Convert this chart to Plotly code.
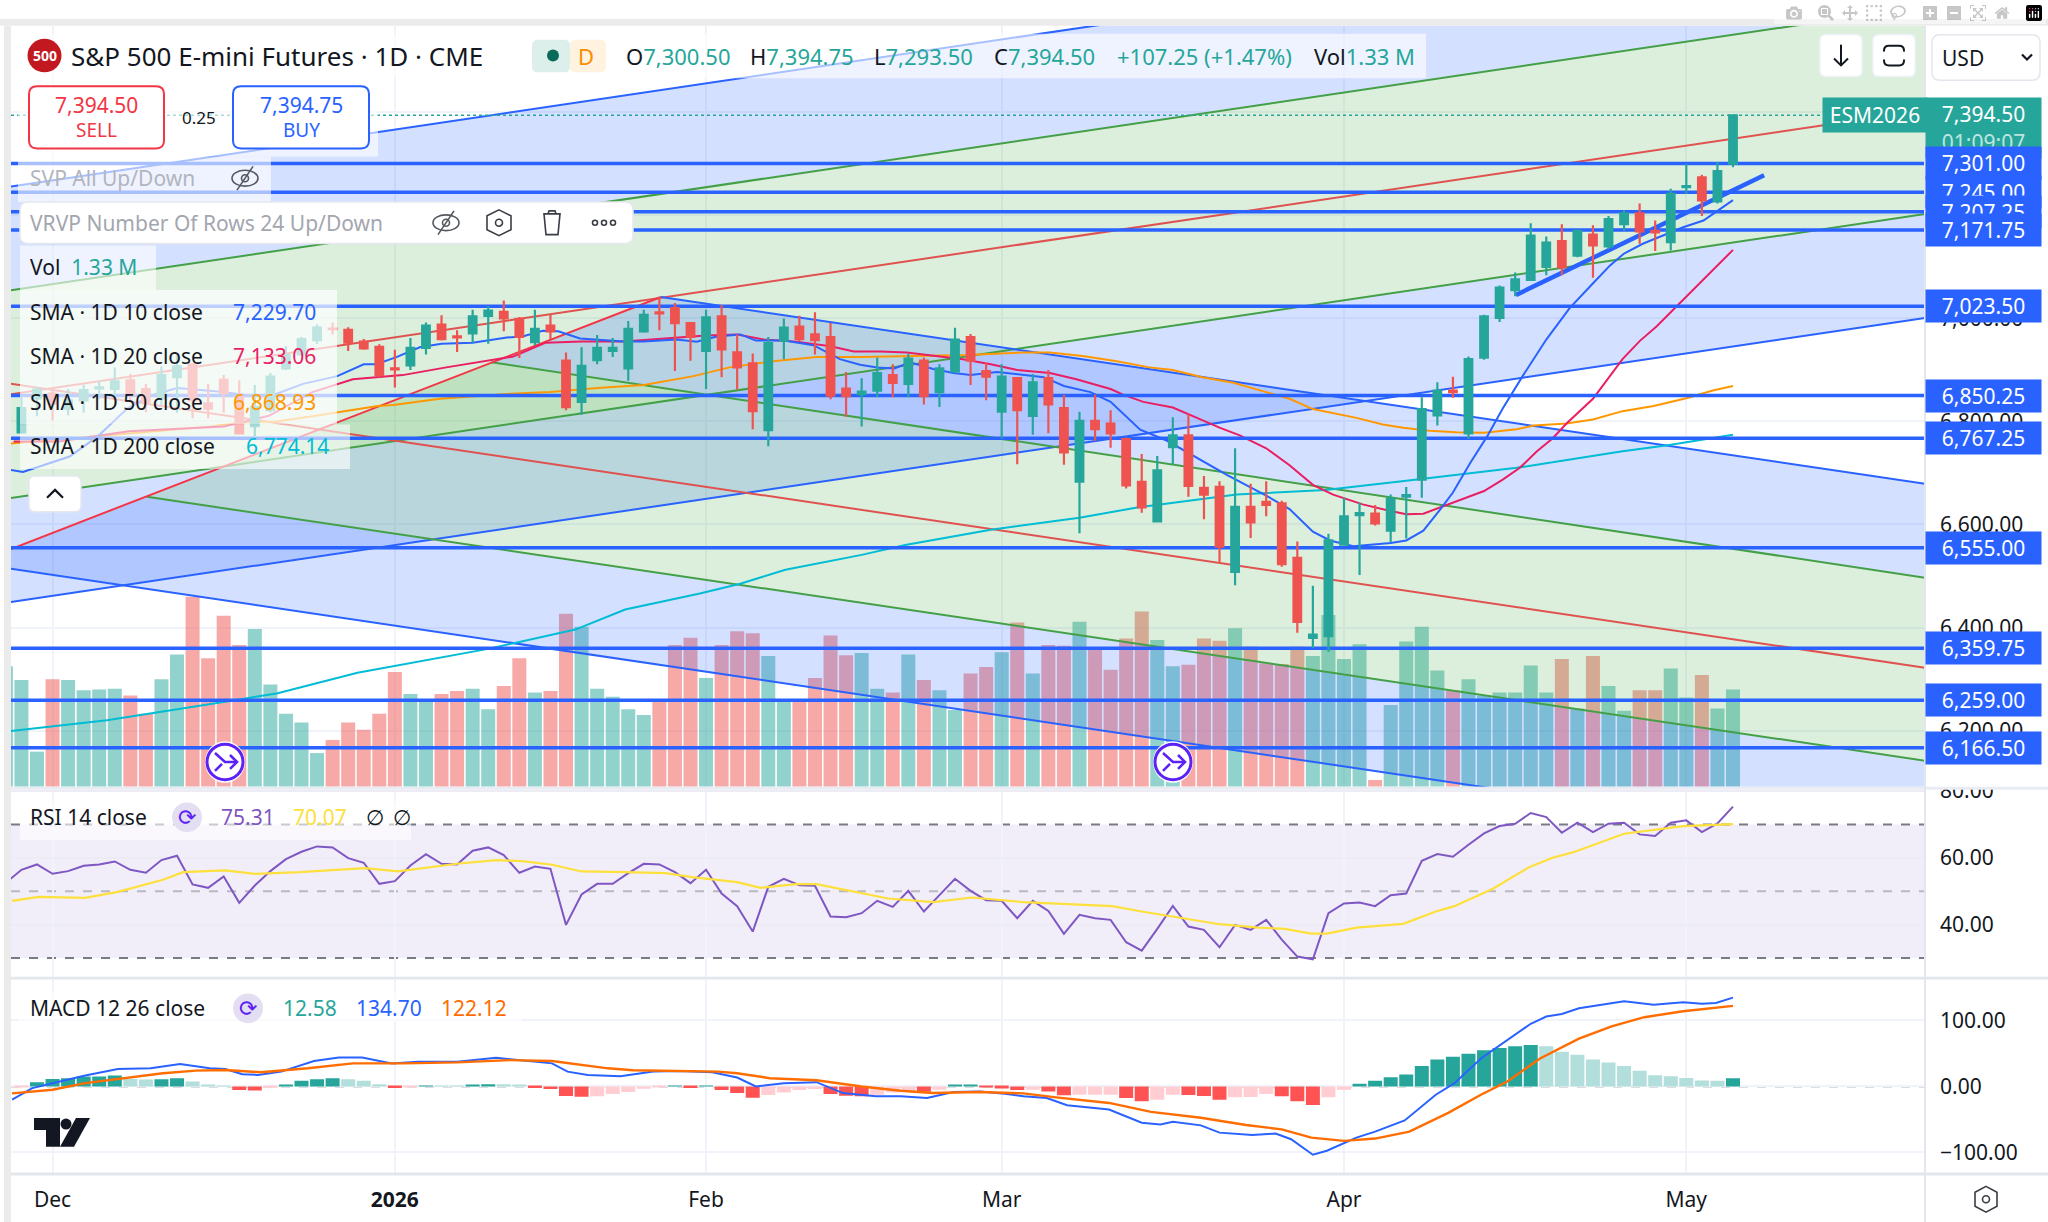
import plotly.graph_objects as go

W, H = 2048, 1222
FONT = "Noto Sans"

# ---- price data, bar index 0 is the first December session
BARS = list(range(-3, 109))
OPEN = [6726, 6779, 6845, 6854, 6825, 6841, 6864, 6863, 6880, 6863, 6845, 6886, 6911, 6835, 6881, 6847, 6791, 6822, 6903, 6930, 6958, 6980.5, 6978, 6955, 6945, 6903, 6909, 6943,
        6988, 6965, 6971, 7005, 7013, 6999, 6954, 6986, 6918, 6838, 6919, 6937, 6903, 6975, 7012, 7020, 6991, 6937, 7004, 6934, 6913, 6783, 6957, 6984, 6969, 6964, 6864,
        6853, 6860, 6890, 6873, 6918, 6857, 6897, 6964, 6898, 6819, 6884, 6811, 6884, 6826, 6683, 6801, 6796, 6766, 6683, 6606, 6750, 6773, 6671, 6673, 6508, 6634, 6644, 6641, 6535,
        6380, 6383, 6561, 6618, 6621, 6588, 6654, 6687, 6812, 6860, 6777, 6924, 7001, 7055, 7075, 7100, 7150, 7122, 7163, 7140, 7183, 7204, 7170, 7148, 7255, 7274, 7227, 7300.5]
HIGH = [6785, 6847, 6866, 6863, 6863, 6871, 6879, 6905, 6892, 6873, 6907, 6929, 6913, 6873, 6890, 6880, 6871, 6894, 6946, 6964, 6988, 6992, 6983, 6960, 6950, 6939, 6962, 6992,
        7006, 6977, 7017, 7024, 7035, 7003, 7017, 7007, 6934, 6944, 6968, 6962, 6995, 7017, 7042, 7030, 6992, 7017, 7026, 6969, 6932, 6964, 7000, 7005, 7012, 6991, 6896,
        6884, 6924, 6911, 6931, 6924, 6911, 6982, 6970, 6915, 6911, 6886, 6892, 6900, 6852, 6819, 6852, 6822, 6769, 6737, 6733, 6808, 6814, 6694, 6684, 6748, 6679, 6684, 6646, 6567,
        6481, 6582, 6652, 6642, 6638, 6658, 6673, 6847, 6876, 6887, 6926, 7007, 7064, 7089, 7185, 7159, 7183, 7172, 7181, 7199, 7210, 7223, 7190, 7252, 7300, 7279, 7304, 7394.75]
LOW = [6720, 6776, 6810, 6802, 6812, 6817, 6843, 6847, 6838, 6818, 6832, 6817, 6806, 6806, 6817, 6775, 6772, 6818, 6900, 6928, 6951, 6969, 6937, 6939, 6886, 6866, 6900, 6930,
       6957, 6935, 6953, 6951, 6975, 6923, 6948, 6960, 6822, 6813, 6911, 6925, 6879, 6972, 6977, 6898, 6918, 6863, 6886, 6862, 6785, 6752, 6921, 6956, 6930, 6843, 6809,
       6790, 6847, 6847, 6847, 6833, 6828, 6894, 6871, 6841, 6767, 6717, 6774, 6777, 6716, 6583, 6762, 6749, 6670, 6623, 6605, 6717, 6654, 6610, 6525, 6482, 6574, 6616, 6518, 6390,
       6360, 6353, 6559, 6502, 6598, 6566, 6573, 6652, 6792, 6846, 6766, 6920, 6993, 7043, 7074, 7084, 7084, 7119, 7079, 7135, 7170, 7145, 7131, 7132, 7242, 7199, 7223, 7293.5]
CLOSE = [6780, 6826, 6862, 6834, 6841, 6861, 6866, 6878, 6853, 6838, 6890, 6907, 6841, 6825, 6856, 6777, 6828, 6887, 6929, 6960, 6982, 6979, 6953, 6942, 6890, 6901, 6943, 6986,
         6960, 6963, 7004, 7015, 7000, 6964, 6980, 6975, 6828, 6908, 6943, 6943, 6980, 7007, 7010, 6991, 6964, 7002, 6940, 6905, 6820, 6952, 6982, 6960, 6958, 6850, 6849,
         6858, 6894, 6875, 6922, 6849, 6903, 6959, 6918, 6887, 6887, 6822, 6876, 6833, 6740, 6801, 6785, 6777, 6676, 6633, 6705, 6773, 6675, 6658, 6557, 6634, 6604, 6638, 6523, 6411,
         6386, 6569, 6616, 6622, 6602, 6650, 6657, 6824, 6860, 6857, 6921, 7004, 7060, 7076, 7161, 7147, 7099, 7170, 7142, 7193, 7204, 7169, 7167, 7242, 7257, 7229, 7286, 7394.5]
VOLUME = [1.65, 1.46, 0.48, 1.47, 1.46, 1.32, 1.33, 1.34, 1.25, 1.00, 1.47, 1.81, 2.60, 1.76, 2.34, 1.94, 2.16, 1.40, 1.00, 0.88, 0.46, 0.64, 0.88, 0.78, 1.00, 1.57, 1.27, 1.19,
          1.27, 1.31, 1.34, 1.06, 1.38, 1.76, 1.29, 1.31, 2.37, 2.19, 1.34, 1.23, 1.06, 0.98, 1.19, 1.94, 2.04, 1.49, 1.94, 2.13, 2.10, 1.79, 1.20, 1.19, 1.49, 2.07, 1.80,
          1.83, 1.34, 1.29, 1.81, 1.46, 1.32, 1.05, 1.55, 1.64, 1.84, 2.25, 1.55, 1.94, 1.93, 2.26, 1.89, 1.60, 2.03, 2.40, 2.01, 1.65, 1.67, 2.03, 2.00, 2.17, 1.92, 1.69, 1.68, 1.92,
          1.79, 2.35, 1.75, 1.95, 0.09, 1.12, 1.99, 2.19, 1.59, 1.32, 1.47, 1.25, 1.29, 1.29, 1.66, 1.29, 1.75, 1.07, 1.79, 1.38, 1.04, 1.32, 1.32, 1.62, 1.22, 1.53, 1.07, 1.33]

# moving averages, read at the bar positions where the curve was clearest
SMA10_X = [-2.67, -1.9, 1.1, 2.9, 4.8, 6.3, 8, 10, 11, 12.7, 14.4, 16.1, 18.3, 20, 20.8, 22.1, 23.6, 25, 27, 29.2, 30.2, 31.5, 32.5, 33.9, 36.7, 38, 40.1, 41.4, 42.7, 44.2, 45.2, 47, 48.9, 50.6, 51.9, 53, 54.1, 55.1, 56.6, 57.9, 59, 60.7, 62, 63.7, 65, 66.7, 68, 69.9, 71.6, 73.3, 75.5, 78, 79.5, 81, 82.1, 83.6, 84.9, 86, 87, 88.1, 89.2, 90, 91.1, 92.2, 93.2, 94.5, 96, 97.5, 98.9, 100.1, 101, 102.2, 103.5, 104.8, 106.1, 107, 108]
SMA10_Y = [6706, 6702, 6732, 6771, 6825, 6850, 6865, 6859, 6857, 6850, 6854, 6873, 6888, 6911, 6911, 6925, 6944, 6951, 6953, 6963, 6965, 6976, 6975, 6961, 6955, 6955, 6959, 6955, 6965, 6969, 6957, 6957, 6948, 6921, 6910, 6905, 6903, 6915, 6902, 6894, 6890, 6896, 6892, 6886, 6869, 6857, 6838, 6784, 6763, 6734, 6696, 6656, 6630, 6586, 6569, 6558, 6562, 6564, 6569, 6588, 6630, 6662, 6719, 6771, 6825, 6889, 6959, 7020, 7065, 7103, 7126, 7145, 7161, 7177, 7190, 7209, 7229.7]
SMA20_X = [-2.5, 0.4, 4.9, 11, 13.9, 16.7, 19.3, 22.5, 25.3, 29.6, 31.7, 34, 36.7, 39.7, 42, 44, 45.7, 47.8, 50, 51.5, 53.2, 54.9, 56, 57.7, 58.5, 60.3, 62, 64.1, 65.8, 68, 68.8, 70.1, 72, 73.7, 75, 76.3, 78, 79.5, 81, 82.3, 84.2, 86, 87, 88.1, 89.6, 92, 93.2, 94.3, 95.4, 96.4, 97.3, 99, 100.9, 102, 103.1, 104.8, 106.1, 107.1, 108]
SMA20_Y = [6761, 6761, 6781, 6790, 6811, 6857, 6882, 6890, 6905, 6926, 6953, 6955, 6955, 6961, 6967, 6969, 6959, 6955, 6946, 6936, 6936, 6934, 6930, 6925, 6921, 6911, 6900, 6894, 6882, 6863, 6852, 6838, 6827, 6805, 6788, 6773, 6748, 6715, 6677, 6658, 6639, 6626, 6620, 6621, 6638, 6665, 6687, 6710, 6742, 6767, 6796, 6844, 6921, 6956, 6985, 7036, 7075, 7107, 7133.06]
SMA50_X = [-2.7, 3.7, 6.9, 10.1, 12.2, 14.4, 16.5, 18.7, 20.9, 21.9, 24.9, 29.4, 32, 35, 38, 41.2, 43.5, 46.3, 49.1, 51.9, 55.6, 58.8, 62.4, 64.1, 66.2, 68.4, 70.5, 72, 73.9, 75.9, 78, 79.5, 81, 82.1, 83.8, 85.5, 86.8, 88.5, 90.2, 92, 94.1, 95.2, 97.3, 99, 100.9, 102.9, 105, 106.7, 108]
SMA50_Y = [6757, 6773, 6782, 6790, 6798, 6800, 6809, 6819, 6830, 6832, 6844, 6854, 6857, 6865, 6871, 6888, 6905, 6917, 6925, 6925, 6927, 6929, 6934, 6934, 6927, 6917, 6905, 6900, 6886, 6875, 6857, 6844, 6824, 6817, 6807, 6794, 6788, 6782, 6779, 6778, 6785, 6792, 6796, 6804, 6820, 6830, 6845, 6860, 6868.93]
SMA200_X = [-2.7, 3.5, 11.5, 14.4, 19.6, 27.9, 33.6, 36.8, 41.6, 44.2, 47.1, 52, 54.8, 60.3, 66, 69.7, 76.1, 81.8, 87, 94.1, 100.9, 103.8, 108]
SMA200_Y = [6199, 6220, 6258, 6272, 6312, 6358, 6396, 6435, 6466, 6485, 6512, 6541, 6560, 6590, 6613, 6633, 6658, 6667, 6685, 6710, 6742, 6754, 6774.14]

# horizontal levels and drawings
LEVELS = [7301.0, 7245.0, 7207.25, 7171.75, 7023.5, 6850.25, 6767.25, 6555.0, 6359.75, 6259.0, 6166.5]
LAST_PRICE = 7394.5
EDGE_X = [-2.67, 120.34]
UP_OUTER_TOP = [7256.1, 7807.5]
UP_INNER_TOP = [7054.5, 7605.9]
UP_MID = [6852.8, 7404.2]
UP_INNER_BOT = [6651.2, 7202.6]
UP_OUTER_BOT = [6449.6, 7000.9]
DN_TOP_X = [39.1, 120.34]
DN_TOP = [7041.7, 6679.2]
DN_INNER_TOP_X = [28.2, 120.34]
DN_INNER_TOP = [6915.0, 6496.8]
DN_MID = [6873.4, 6322.0]
DN_INNER_BOT_X = [6.07, 120.34]
DN_INNER_BOT = [6653.7, 6141.5]
DN_BOT = [6514.3, 5963.0]
HANDLE_X = [-2.67, 39.1]
HANDLE_Y = [6552.5, 7041.7]
TREND_X = [94.05, 110.0]
TREND_Y = [7045.5, 7278.0]

# RSI pane
RSI = [52.5, 56.4, 58.0, 55.2, 56.0, 57.6, 58.0, 58.9, 56.4, 55.5, 59.3, 60.6, 52.0, 51.0, 54.4, 46.5, 51.7, 56.0, 59.6, 61.8, 63.4, 63.1, 59.9, 58.5, 52.2, 53.0, 57.7, 61.1,
       58.2, 58.0, 62.1, 63.1, 60.8, 55.5, 57.4, 56.7, 39.9, 49.0, 52.2, 52.2, 55.4, 58.2, 58.0, 55.7, 52.4, 56.4, 49.3, 45.5, 37.9, 51.3, 53.7, 51.8, 51.6, 42.4, 42.2,
       43.4, 47.1, 45.3, 50.1, 43.9, 48.8, 53.7, 50.1, 47.3, 47.1, 41.9, 47.1, 44.1, 37.2, 42.9, 41.9, 41.4, 34.7, 32.2, 38.7, 45.6, 39.4, 38.4, 33.2, 39.9, 38.4, 41.4, 35.5, 30.4,
       29.6, 43.4, 46.3, 46.6, 45.5, 48.8, 49.3, 59.1, 61.1, 60.3, 63.9, 67.3, 69.5, 70.2, 73.4, 72.2, 67.5, 70.5, 67.7, 70.2, 70.5, 67.0, 66.5, 70.5, 71.2, 67.7, 70.3, 75.31]
RSI_MA_X = [-2.6, -0.9, 2.1, 4.2, 7.1, 8.4, 11.1, 13, 15.9, 20.1, 22.2, 24.3, 26, 28.5, 30.2, 32.1, 34, 36.9, 39.4, 41.1, 44, 45.5, 47.8, 49.1, 50.8, 53.7, 56.6, 59.1, 62.4, 65.8, 68.1, 70, 72.9, 75, 77.5, 79.2, 80.9, 81.9, 83.8, 86.8, 88.9, 90.1, 92.6, 94.9, 96.4, 97.7, 101, 103.1, 104.8, 108]
RSI_MA_Y = [47.1, 48.3, 48.0, 49.8, 53.4, 55.7, 56.2, 55.2, 55.7, 56.9, 55.9, 57.2, 58.2, 59.3, 59.0, 57.9, 55.9, 55.7, 55.4, 54.2, 52.7, 51.0, 52.1, 52.1, 50.5, 47.8, 46.7, 48.1, 46.7, 46.1, 45.5, 43.9, 41.6, 40.1, 39.1, 38.7, 37.3, 37.3, 39.1, 40.2, 43.9, 45.5, 50.8, 57.2, 60.0, 61.6, 67.2, 68.5, 69.5, 70.07]
RSI_TICKS = [40, 60, 80]

# MACD pane
HIST_BARS = list(range(-2, 109))
HIST = [-1.5, 6.5, 11.5, 12.5, 15, 15, 16.5, 11.5, 10.5, 11, 12.5, 7.5, 2.5, 1, -5.5, -6, -2, 2.5, 8.5, 11, 12.5, 11, 8.5, 3.5, -2.5, -1.5, 1, 0.8, 0.7, 2, 3.5, 3.2, 1.5, -2.5,
        -4, -14.5, -15.5, -15, -11.5, -8.5, -3.5, -1, 1, -2.5, 1, -5.5, -10, -17, -13, -9, -5.5, -4, -11.5, -14, -15, -12.5, -9, -7.5, -8, -5, 1.5, 1.5, -0.5, -3, -5.5, -5, -7.5,
        -13.5, -12.5, -12.5, -12.5, -17.5, -22.5, -20, -12.5, -13, -14.5, -20, -16.5, -16, -11.5, -15, -22.5, -28, -16.5, -5, 4, 8.5, 14, 18, 31, 41, 45, 49.5, 55, 58.5, 61, 63,
        61, 52.5, 48, 41, 36.5, 31, 24, 17, 15.5, 13, 9, 8.5, 12.58]
MACD_X = [-2.6, -1.3, 0, 2.1, 4.2, 6.3, 8.2, 10.1, 11.1, 12.2, 13.2, 14.7, 16.8, 18.4, 19.9, 21.8, 23.5, 26, 28.5, 30.2, 32.1, 33.1, 34.4, 36.5, 38.6, 40.3, 42.4, 44, 45.2, 47, 49.1, 50.8, 52.9, 54.5, 56.2, 57.9, 59.6, 61.2, 62.4, 63.9, 65.2, 67.9, 70, 71.2, 72, 73.8, 75, 77.1, 78.6, 79.6, 81, 81.9, 83.8, 85, 86.9, 88.9, 90.1, 91.8, 93.5, 95, 96, 97, 98.1, 99.3, 101, 102.9, 104.8, 106, 106.9, 108]
MACD_Y = [-20, -2.5, 5, 16.5, 26.5, 27.5, 34, 27.5, 26.5, 18.5, 17.5, 22.5, 38.5, 44, 44, 35, 37.5, 37.5, 43.5, 40, 35, 22.5, 17.5, 15.5, 22.5, 23.5, 21.5, 13.5, 0, 5, 6.5, -10, -15, -15, -17.5, -8.5, -7.5, -11, -15, -17.5, -28.5, -35, -55, -57.5, -53.5, -59, -70, -73.5, -71.5, -80, -103.5, -97.5, -77.5, -68.5, -51.5, -12.5, 5, 42.5, 70, 95, 106, 110, 118.5, 122.5, 129, 124, 127.5, 125.5, 126.5, 134.7]
SIGNAL_X = [-2.6, 0, 2.1, 4.2, 7.1, 9.2, 11.1, 13.4, 16.4, 19.3, 22.6, 26, 29.4, 32.1, 35.7, 37.3, 40.3, 42.8, 44, 46.1, 49.1, 52, 54.5, 56.6, 59.6, 61.2, 62.4, 64.5, 67.9, 70.6, 73.8, 76.7, 79, 80.9, 83, 85, 87.2, 89.7, 91.8, 93.5, 95.6, 98.1, 100.2, 102.3, 104.8, 108]
SIGNAL_Y = [-10.5, -5, 5, 11, 20, 24, 25, 21.5, 27.5, 35, 35, 36.5, 40, 38.5, 27.5, 24.5, 24, 22.5, 20, 12.5, 9.5, 0, -6.5, -10, -8.5, -9.5, -10.5, -16.5, -25, -38.5, -47.5, -58.5, -65, -77.5, -82.5, -79, -68.5, -40, -12.5, 7.5, 42.5, 72.5, 91, 105, 114, 122.12]
MACD_TICKS = [-100, 0, 100]

# time and price axis
TIME_TICKS = [0, 22, 42, 61, 83, 105]
TIME_LABELS = ["Dec", "<b>2026</b>", "Feb", "Mar", "Apr", "May"]
PRICE_TICKS = [6200, 6400, 6600, 6800, 7000, 7200, 7400]

TEAL = "#26A69A"
RED = "#EF5350"
BLUE = "#2962FF"
GREEN_LINE = "#43A047"
RED_LINE = "#E0524F"
GRID = "#F0F3FA"
GREEN_FILL = "rgba(76,175,80,0.2)"
BLUE_FILL = "rgba(41,98,255,0.2)"
TEXT = "#131722"


# everything outside the data is placed in page pixels
def px(x):
    return x / W


def py(y):
    return 1 - y / H


def poly(points, close=True):
    parts = [f"{'M' if i == 0 else 'L'} {px(x):.5f} {py(y):.5f}" for i, (x, y) in enumerate(points)]
    return " ".join(parts) + (" Z" if close else "")


def rrect(x0, y0, x1, y1, r):
    return (f"M {px(x0 + r):.5f} {py(y0):.5f} L {px(x1 - r):.5f} {py(y0):.5f} Q {px(x1):.5f} {py(y0):.5f} {px(x1):.5f} {py(y0 + r):.5f} "
            f"L {px(x1):.5f} {py(y1 - r):.5f} Q {px(x1):.5f} {py(y1):.5f} {px(x1 - r):.5f} {py(y1):.5f} "
            f"L {px(x0 + r):.5f} {py(y1):.5f} Q {px(x0):.5f} {py(y1):.5f} {px(x0):.5f} {py(y1 - r):.5f} "
            f"L {px(x0):.5f} {py(y0 + r):.5f} Q {px(x0):.5f} {py(y0):.5f} {px(x0 + r):.5f} {py(y0):.5f} Z")


shapes = []
notes = []


def box(x0, y0, x1, y1, fill, line=None, lw=0, r=0):
    shapes.append(dict(type="path", path=rrect(x0, y0, x1, y1, r) if r else poly([(x0, y0), (x1, y0), (x1, y1), (x0, y1)]),
                       xref="paper", yref="paper", fillcolor=fill, line=dict(color=line or fill, width=lw), layer="above"))


def circle(cx, cy, r, fill, line=None, lw=0, ry=None):
    ry = ry or r
    shapes.append(dict(type="circle", xref="paper", yref="paper", x0=px(cx - r), x1=px(cx + r), y0=py(cy + ry), y1=py(cy - ry),
                       fillcolor=fill, line=dict(color=line or fill, width=lw), layer="above"))


def stroke(points, color, lw=2, close=False):
    shapes.append(dict(type="path", path=poly(points, close), xref="paper", yref="paper", line=dict(color=color, width=lw), layer="above"))


def label(x, y, text, color=TEXT, size=21, anchor="left", **kw):
    notes.append(dict(x=px(x), y=py(y), xref="paper", yref="paper", text=text, showarrow=False, xanchor=anchor, yanchor="middle",
                      font=dict(family=kw.pop("family", FONT), size=size, color=color), **kw))


def eye_off(cx, cy, color):
    circle(cx, cy, 13, "rgba(0,0,0,0)", color, 1.6, ry=8)
    circle(cx, cy, 3.5, "rgba(0,0,0,0)", color, 1.6)
    stroke([(cx - 8, cy + 12), (cx + 8, cy - 12)], color, 1.6)


def price_badge(price, text, fill=BLUE):
    notes.append(dict(x=px(1925), y=price, xref="paper", yref="y2", text=text, showarrow=False, xanchor="left", yanchor="middle",
                      width=113, height=30, bgcolor=fill, align="center", font=dict(family=FONT, size=21, color="white")))


fig = go.Figure()

# volume sits at the very back
vol_colors = ["rgba(38,166,154,0.5)" if c >= o else "rgba(239,83,80,0.5)" for o, c in zip(OPEN, CLOSE)]
fig.add_trace(go.Bar(x=BARS, y=VOLUME, marker=dict(color=vol_colors, line_width=0), xaxis="x", yaxis="y"))


def add_band(xs, ys, color):
    fig.add_trace(go.Scatter(x=xs, y=ys, mode="lines", fill="toself", fillcolor=color, line=dict(width=0), xaxis="x", yaxis="y2"))


def add_line(xs, ys, color, width=2, dash=None):
    fig.add_trace(go.Scatter(x=xs, y=ys, mode="lines", line=dict(color=color, width=width, dash=dash), xaxis="x", yaxis="y2"))


# rising channel
add_band(EDGE_X + EDGE_X[::-1], UP_OUTER_TOP + UP_INNER_TOP[::-1], BLUE_FILL)
add_band(EDGE_X + EDGE_X[::-1], UP_INNER_TOP + UP_INNER_BOT[::-1], GREEN_FILL)
add_band(EDGE_X + EDGE_X[::-1], UP_INNER_BOT + UP_OUTER_BOT[::-1], BLUE_FILL)
# falling channel, cut on its left by the handle line
add_band(DN_TOP_X + DN_INNER_TOP_X[::-1], DN_TOP + DN_INNER_TOP[::-1], BLUE_FILL)
add_band(DN_INNER_TOP_X + DN_INNER_BOT_X[::-1], DN_INNER_TOP + DN_INNER_BOT[::-1], GREEN_FILL)
add_band(DN_INNER_BOT_X + EDGE_X[::-1] + HANDLE_X[:1], DN_INNER_BOT + DN_BOT[::-1] + HANDLE_Y[:1], BLUE_FILL)

add_line(EDGE_X, UP_OUTER_TOP, BLUE)
add_line(EDGE_X, UP_INNER_TOP, GREEN_LINE)
add_line(EDGE_X, UP_MID, RED_LINE)
add_line(EDGE_X, UP_INNER_BOT, GREEN_LINE)
add_line(EDGE_X, UP_OUTER_BOT, BLUE)
add_line(DN_TOP_X, DN_TOP, BLUE)
add_line(DN_INNER_TOP_X, DN_INNER_TOP, GREEN_LINE)
add_line(EDGE_X, DN_MID, RED_LINE)
add_line(DN_INNER_BOT_X, DN_INNER_BOT, GREEN_LINE)
add_line(EDGE_X, DN_BOT, BLUE)
add_line(HANDLE_X, HANDLE_Y, "#F23645")

add_line(SMA200_X, SMA200_Y, "#00BCD4")
add_line(SMA50_X, SMA50_Y, "#FF9800")
add_line(SMA20_X, SMA20_Y, "#E91E63")
add_line(SMA10_X, SMA10_Y, BLUE)

for level in LEVELS:
    add_line(EDGE_X, [level, level], BLUE, 3.5)
add_line(EDGE_X, [LAST_PRICE, LAST_PRICE], TEAL, 1.5, "dot")
add_line(TREND_X, TREND_Y, BLUE, 4.5)

fig.add_trace(go.Candlestick(x=BARS, open=OPEN, high=HIGH, low=LOW, close=CLOSE, xaxis="x", yaxis="y3", whiskerwidth=0,
                             increasing=dict(line=dict(color=TEAL, width=2.2), fillcolor=TEAL),
                             decreasing=dict(line=dict(color=RED, width=2.2), fillcolor=RED)))

# RSI
fig.add_trace(go.Scatter(x=BARS, y=RSI, mode="lines", line=dict(color="#7E57C2", width=2), xaxis="x2", yaxis="y4"))
fig.add_trace(go.Scatter(x=RSI_MA_X, y=RSI_MA_Y, mode="lines", line=dict(color="#FDE03B", width=2.2), xaxis="x2", yaxis="y4"))

# MACD, histogram shade follows direction against the previous bar
hist_colors = []
prev = HIST[0]
for v in HIST:
    if v >= 0:
        hist_colors.append("#26A69A" if v >= prev else "#B2DFDB")
    else:
        hist_colors.append("#FF5252" if v < prev else "#FFCDD2")
    prev = v
fig.add_trace(go.Bar(x=HIST_BARS, y=HIST, marker=dict(color=hist_colors, line_width=0), xaxis="x3", yaxis="y5"))
fig.add_trace(go.Scatter(x=MACD_X, y=MACD_Y, mode="lines", line=dict(color=BLUE, width=2), xaxis="x3", yaxis="y5"))
fig.add_trace(go.Scatter(x=SIGNAL_X, y=SIGNAL_Y, mode="lines", line=dict(color="#FF6D00", width=2.4), xaxis="x3", yaxis="y5"))

# RSI band and dashed guides live below the traces
below = [
    dict(type="rect", xref="x2", yref="y4", x0=EDGE_X[0], x1=EDGE_X[1], y0=30, y1=70, fillcolor="rgba(126,87,194,0.1)", line_width=0, layer="below"),
    dict(type="line", xref="x2", yref="y4", x0=EDGE_X[0], x1=EDGE_X[1], y0=70, y1=70, line=dict(color="#787B86", width=2, dash="dash"), layer="below"),
    dict(type="line", xref="x2", yref="y4", x0=EDGE_X[0], x1=EDGE_X[1], y0=50, y1=50, line=dict(color="#B8B9C0", width=2, dash="dash"), layer="below"),
    dict(type="line", xref="x2", yref="y4", x0=EDGE_X[0], x1=EDGE_X[1], y0=30, y1=30, line=dict(color="#787B86", width=2, dash="dash"), layer="below"),
    dict(type="line", xref="x3", yref="y5", x0=EDGE_X[0], x1=EDGE_X[1], y0=0, y1=0, line=dict(color="#B8B9C0", width=2, dash="dash"), layer="below"),
]
shapes.extend(below)

# page chrome
box(0, 0, W, 6, "white")
box(0, 6, W, 13, "#EBEBEB")
box(0, 13, 4, H, "white")
box(4, 13, 11, H, "#EBEBEB")
box(1925, 13, W, 24, "white")
box(1926, 760, W, 784, "white")
box(11, 782, W, 785, "#E9ECF3")
box(11, 974, W, 977, "#E3E6EC")
box(11, 1172, W, 1175, "#E3E6EC")
box(1924, 13, 1926, H, "#E3E6EC")

# legend backdrops
box(18, 21, 1426, 66, "rgba(255,255,255,0.6)")
box(18, 66, 378, 145, "rgba(255,255,255,0.6)")
box(18, 145, 271, 191, "rgba(255,255,255,0.6)")
box(20, 235, 156, 280, "rgba(255,255,255,0.6)")
box(20, 280, 337, 416, "rgba(255,255,255,0.7)")
box(20, 416, 350, 461, "rgba(255,255,255,0.6)")
box(20, 797, 411, 836, "rgba(255,255,255,0.6)")
box(18, 990, 522, 1020, "rgba(255,255,255,0.6)")

# title row
circle(44.5, 43, 17, "#C2181F")
label(44.5, 43, "<b>500</b>", "white", 14, "center")
label(69, 43, "S&P 500 E-mini Futures · 1D · CME", TEXT, 26)
box(532, 27, 570, 60, "#DDEFEA", r=6)
box(570, 27, 606, 60, "#FFF3E0", r=6)
circle(553, 43, 6, "#0B6B5A")
label(586, 43, "D", "#FB8C00", 22, "center")
ohlc_font = 22
for x, head, value in [(624, "O", "7,300.50"), (748, "H", "7,394.75"), (872, "L", "7,293.50"), (992, "C", "7,394.50")]:
    label(x, 43, f"{head}<span style='color:{TEAL}'>{value}</span>", TEXT, ohlc_font)
label(1115, 43, "+107.25 (+1.47%)", TEAL, ohlc_font)
label(1312, 43, f"Vol<span style='color:{TEAL}'>1.33 M</span>", TEXT, ohlc_font)

# order buttons
box(29, 74, 164, 137, "white", "#F23645", 2, 8)
label(96.5, 93, "7,394.50", "#F23645", 21, "center")
label(96.5, 118, "SELL", "#F23645", 19, "center")
label(199, 106, "0.25", TEXT, 17, "center")
box(233, 74, 369, 137, "white", BLUE, 2, 8)
label(301, 93, "7,394.75", BLUE, 21, "center")
label(301, 118, "BUY", BLUE, 19, "center")

# indicator legends
label(28, 167, "SVP All Up/Down", "#B2B5BE", 21)
eye_off(245, 167, "#55585F")
box(20, 191, 633, 233, "white", "#E6E8EE", 1.5, 8)
label(28, 212, "VRVP Number Of Rows 24 Up/Down", "#A3A6AF", 21)
eye_off(446, 212, "#55585F")
stroke([(499, 199), (511, 205), (511, 219), (499, 225), (487, 219), (487, 205)], "#3A3D45", 1.6, True)
circle(499, 212, 3.5, "rgba(0,0,0,0)", "#3A3D45", 1.6)
stroke([(544, 203), (560, 203), (558, 224), (546, 224)], "#3A3D45", 1.6, True)
stroke([(548, 203), (549, 200), (555, 200), (556, 203)], "#3A3D45", 1.6)
for cx in (595, 604, 613):
    circle(cx, 212, 2.5, "rgba(0,0,0,0)", "#3A3D45", 1.6)

label(28, 257, f"Vol<span style='color:{TEAL}'>&nbsp;&nbsp;1.33 M</span>", TEXT, 21)
for y, name, value, color in [(302, "SMA · 1D 10 close", "7,229.70", BLUE),
                              (347, "SMA · 1D 20 close", "7,133.06", "#E91E63"),
                              (393, "SMA · 1D 50 close", "6,868.93", "#FF9800"),
                              (438, "SMA · 1D 200 close", "6,774.14", "#00BCD4")]:
    label(28, y, name, TEXT, 21)
    label(244 if "200" in name else 231, y, value, color, 21)

box(29, 468, 81, 504, "white", "#E6E8EE", 1.5, 6)
stroke([(47, 490), (55, 482), (63, 490)], TEXT, 2.2)

# session break markers on the volume pane
for cx in (225, 1173):
    circle(cx, 757, 20, "white", ry=21)
    circle(cx, 757, 18, "white", "#5B21F5", 3)
    stroke([(cx - 10, cy_top := 748), (cx, 757), (cx + 11, 757)], "#5B21F5", 2.6)
    stroke([(cx - 10, 766), (cx - 3, 759)], "#5B21F5", 2.6)
    stroke([(cx + 5, 750), (cx + 12, 757), (cx + 5, 764)], "#5B21F5", 2.6)

# RSI legend
label(28, 813, "RSI 14 close", TEXT, 21)
circle(187, 813, 15, "#E4DEF3")
label(187, 813, "⟳", "#5B21F5", 22, "center", family="DejaVu Sans")
label(219, 813, "75.31", "#7E57C2", 21)
label(291, 813, "70.07", "#FDE03B", 21)
label(364, 813, "∅", TEXT, 21)
label(391, 813, "∅", TEXT, 21)

# MACD legend
label(28, 1006, "MACD 12 26 close", TEXT, 21)
circle(248, 1006, 15, "#E4DEF3")
label(248, 1006, "⟳", "#5B21F5", 22, "center", family="DejaVu Sans")
label(281, 1006, "12.58", TEAL, 21)
label(354, 1006, "134.70", BLUE, 21)
label(439, 1006, "122.12", "#FF6D00", 21)

# logo in the MACD pane
shapes.append(dict(type="path", path=poly([(34, 1117), (60, 1117), (60, 1146), (46, 1146), (46, 1129), (34, 1129)]), xref="paper", yref="paper",
                   fillcolor="#131722", line_width=0, layer="above"))
shapes.append(dict(type="path", path=poly([(76, 1117), (90, 1117), (74, 1146), (60, 1146)]), xref="paper", yref="paper",
                   fillcolor="#131722", line_width=0, layer="above"))
circle(66, 1123, 5.5, "#131722")

# top right controls
box(1820, 22, 1862, 64, "white", "#F0F3FA", 1.5, 6)
stroke([(1841, 32), (1841, 53)], TEXT, 2)
stroke([(1834, 46), (1841, 53), (1848, 46)], TEXT, 2)
box(1873, 22, 1915, 64, "white", "#F0F3FA", 1.5, 6)
box(1884, 33, 1904, 53, "white", TEXT, 2, 5)
box(1880, 39, 1908, 47, "white")
box(1932, 22, 2040, 68, "white", "#E3E6EC", 1.5, 8)
label(1940, 45, "USD", TEXT, 21)
stroke([(2022, 42), (2027, 47), (2032, 42)], TEXT, 2.2)

# settings glyph on the axis corner
stroke([(1986, 1186), (1997, 1192), (1997, 1206), (1986, 1212), (1975, 1206), (1975, 1192)], "#3A3D45", 1.6, True)
circle(1986, 1199, 3.5, "rgba(0,0,0,0)", "#3A3D45", 1.6)

# price axis badges
notes.append(dict(x=px(1925), y=py(116.5), xref="paper", yref="paper", text="<span style='color:white'>7,394.50</span><br><span style='color:#BFE5E1'>01:09:07</span>",
                  showarrow=False, xanchor="left", yanchor="middle", width=113, height=58, bgcolor=TEAL, align="center", font=dict(family=FONT, size=21)))
notes.append(dict(x=px(1822), y=py(103), xref="paper", yref="paper", text="ESM2026", showarrow=False, xanchor="left", yanchor="middle",
                  width=102, height=32, bgcolor=TEAL, align="center", font=dict(family=FONT, size=21, color="white")))
for level in LEVELS:
    price_badge(level, f"{level:,.2f}")

axis_common = dict(showline=False, zeroline=False, ticks="", tickfont=dict(family=FONT, size=21, color=TEXT))
x_common = dict(range=EDGE_X, showgrid=True, gridcolor=GRID, gridwidth=1.5, tickmode="array", tickvals=TIME_TICKS, zeroline=False, showline=False)
x_domain = [px(11), px(1925)]
price_domain = [py(782), py(13)]
price_range = [6091, 7568]

fig.update_layout(
    width=W, height=H, margin=dict(l=0, r=0, t=0, b=0), paper_bgcolor="white", plot_bgcolor="rgba(0,0,0,0)",
    showlegend=False, barmode="overlay", bargap=0.1, hovermode=False, dragmode=False,
    xaxis=dict(domain=x_domain, anchor="y", showticklabels=False, rangeslider=dict(visible=False), **x_common),
    xaxis2=dict(domain=x_domain, anchor="y4", showticklabels=False, **x_common),
    xaxis3=dict(domain=x_domain, anchor="y5", ticktext=TIME_LABELS, tickfont=dict(family=FONT, size=21, color=TEXT), ticklabelstandoff=12, ticks="", **x_common),
    yaxis=dict(domain=price_domain, range=[0, 10.42], visible=False),
    yaxis2=dict(domain=price_domain, range=price_range, overlaying="y", side="right", anchor="x", tickmode="array", tickvals=PRICE_TICKS,
                tickformat=",.2f", showgrid=True, gridcolor=GRID, gridwidth=1.5, ticklabelstandoff=14, **axis_common),
    yaxis3=dict(domain=price_domain, range=price_range, overlaying="y", visible=False),
    yaxis4=dict(domain=[py(974), py(785)], range=[24.4, 80.4], side="right", anchor="x2", tickmode="array", tickvals=RSI_TICKS,
                tickformat=".2f", showgrid=True, gridcolor="#EDEBF4", gridwidth=1.5, ticklabelstandoff=14, **axis_common),
    yaxis5=dict(domain=[py(1172), py(977)], range=[-130.5, 162], side="right", anchor="x3", tickmode="array", tickvals=MACD_TICKS,
                tickformat=".2f", showgrid=True, gridcolor=GRID, gridwidth=1.5, ticklabelstandoff=14, **axis_common),
    shapes=shapes, annotations=notes,
)

fig.write_html("out.html", post_script="document.body.style.margin='0';document.body.style.overflow='hidden';")
